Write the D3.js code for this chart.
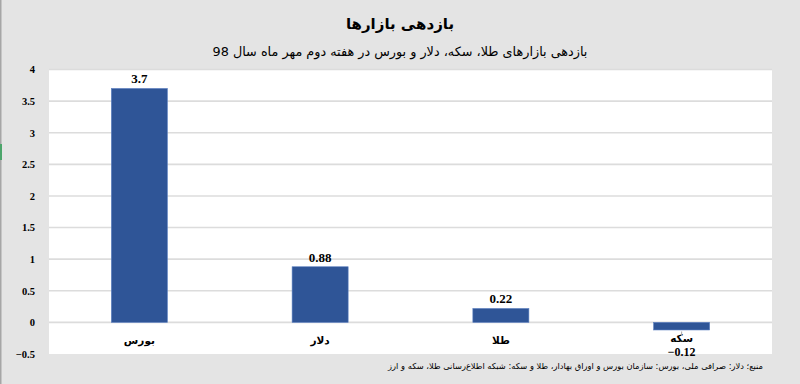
<!DOCTYPE html>
<html><head><meta charset="utf-8">
<script src="https://cdn.jsdelivr.net/npm/d3@7"></script>
<style>
html,body{margin:0;padding:0;background:#e4e4e4;}
svg{display:block;}
</style></head>
<body>
<svg id="c" width="800" height="384"></svg>
<script>
const categories = ["بورس", "دلار", "طلا", "سکه"];
const values = [3.7, 0.88, 0.22, -0.12];
const valueLabels = ["3.7", "0.88", "0.22", "\u22120.12"];
const yTicks = [-0.5, 0, 0.5, 1, 1.5, 2, 2.5, 3, 3.5, 4];
const yTickLabels = ["\u22120.5", "0", "0.5", "1", "1.5", "2", "2.5", "3", "3.5", "4"];
const title = "بازدهی بازارها";
const subtitle = "بازدهی بازارهای طلا، سکه، دلار و بورس در هفته دوم مهر ماه سال 98";
const source = "منبع؛ دلار: صرافی ملی، بورس: سازمان بورس و اوراق بهادار، طلا و سکه: شبکه اطلاع‌رسانی طلا، سکه و ارز";

const svg = d3.select("#c");
const W = 800, H = 384;
const plot = {left: 49, right: 772, top: 69.5, bottom: 354};

svg.append("rect").attr("width", W).attr("height", H).attr("fill", "#e4e4e4");
svg.append("rect").attr("x", 0).attr("y", 0).attr("width", 1.5).attr("height", H).attr("fill", "#a6a6a6");
svg.append("rect").attr("x", 0).attr("y", 144).attr("width", 2).attr("height", 16).attr("fill", "#4ca56b");

svg.append("rect").attr("x", plot.left).attr("y", plot.top)
  .attr("width", plot.right - plot.left).attr("height", plot.bottom - plot.top).attr("fill", "#ffffff");

const x = d3.scaleBand().domain(categories).range([plot.left, plot.right]).padding(0);
const y = d3.scaleLinear().domain([-0.5, 4]).range([plot.bottom, plot.top]);
const barW = x.bandwidth() * 0.31;

// gridlines
svg.append("g").selectAll("line").data(yTicks.filter(t => t > -0.5)).join("line")
  .attr("x1", plot.left).attr("x2", plot.right)
  .attr("y1", d => y(d)).attr("y2", d => y(d))
  .attr("stroke", "#dcdcdc").attr("stroke-width", 1.6);

// y axis
const yAxis = d3.axisLeft(y).tickValues(yTicks)
  .tickFormat((d, i) => yTickLabels[i]).tickSize(0).tickPadding(14);
const gy = svg.append("g").attr("transform", `translate(${plot.left},0)`).call(yAxis);
gy.select(".domain").remove();
gy.selectAll("text").attr("font-family", "'Liberation Serif', serif").attr("font-weight", "bold")
  .attr("font-size", 10.5).attr("fill", "#000");

// bars
svg.append("g").selectAll("rect").data(values).join("rect")
  .attr("x", (d, i) => x(categories[i]) + x.bandwidth() / 2 - barW / 2)
  .attr("width", barW)
  .attr("y", d => y(Math.max(0, d)))
  .attr("height", d => Math.abs(y(d) - y(0)))
  .attr("fill", "#2f5597").attr("stroke", "#5b7fc0").attr("stroke-width", 0.6);

// category labels
svg.append("g").selectAll("text").data(categories).join("text")
  .attr("x", d => x(d) + x.bandwidth() / 2)
  .attr("y", (d, i) => values[i] < 0 ? 342 : 344)
  .attr("text-anchor", "middle")
  .attr("direction", "rtl")
  .attr("font-family", "'DejaVu Sans', sans-serif").attr("font-weight", "bold")
  .attr("font-size", 10.5).attr("fill", "#000")
  .text(d => d);

// leader line for negative label
values.forEach((v, i) => {
  if (v < 0) {
    const cx = x(categories[i]) + x.bandwidth() / 2;
    svg.append("line").attr("x1", cx).attr("x2", cx)
      .attr("y1", y(v) + 1.5).attr("y2", y(v) + 6)
      .attr("stroke", "#a6a6a6").attr("stroke-width", 1);
  }
});

// value labels
svg.append("g").selectAll("text").data(values).join("text")
  .attr("x", (d, i) => x(categories[i]) + x.bandwidth() / 2)
  .attr("y", d => d >= 0 ? y(d) - 5 : 356)
  .attr("text-anchor", "middle")
  .attr("font-family", "'Liberation Serif', serif").attr("font-weight", "bold")
  .attr("font-size", d => d >= 0 ? 13 : 12).attr("fill", "#000")
  .text((d, i) => valueLabels[i]);

// titles
svg.append("text").attr("x", 400).attr("y", 29).attr("text-anchor", "middle")
  .attr("direction", "rtl")
  .attr("font-family", "'DejaVu Sans', sans-serif").attr("font-weight", "bold")
  .attr("font-size", 15).attr("fill", "#000").text(title);
svg.append("text").attr("x", 400).attr("y", 56).attr("text-anchor", "middle")
  .attr("direction", "rtl")
  .attr("font-family", "'DejaVu Sans', sans-serif")
  .attr("font-size", 12.8).attr("fill", "#000").text(subtitle);

// source
svg.append("text").attr("x", 763).attr("y", 368.5).attr("text-anchor", "start")
  .attr("direction", "rtl")
  .attr("font-family", "'DejaVu Sans', sans-serif")
  .attr("font-size", 8.3).attr("fill", "#000").text(source);
</script>
</body></html>
